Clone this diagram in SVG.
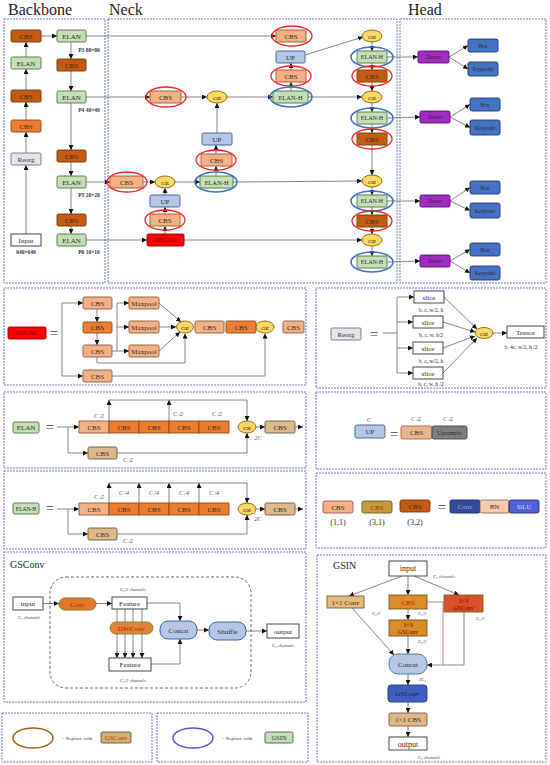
<svg xmlns="http://www.w3.org/2000/svg" width="550" height="765" viewBox="0 0 550 765">
<style>
.pnl{fill:none;stroke:#6c7ab8;stroke-width:1;stroke-dasharray:2 1}
rect{stroke-width:0.9}
.dk{fill:#c55a11;stroke:#6b3a10}
.or{fill:#ed7d31;stroke:#8a4a1a}
.lt{fill:#f4b183;stroke:#8a5a3a}
.gr{fill:#c5e0b4;stroke:#4f6f45}
.bl{fill:#b4c7e7;stroke:#3a5a90}
.ct{fill:#ffd966;stroke:#7f6000;stroke-width:0.9}
.gy{fill:#e4e4ec;stroke:#6f6f7f}
.wh{fill:#fff;stroke:#333}
.rd{fill:#ff0000;stroke:#900}
.pu{fill:#a12cc0;stroke:#5a1070}
.bx{fill:#4472c4;stroke:#1f3864}
.tn{fill:#dfb98a;stroke:#6a5a3a}
.t{font-family:"Liberation Serif",serif;font-size:7px;text-anchor:middle;fill:#2a2a2a}
.ts{font-family:"Liberation Serif",serif;font-size:5.5px;text-anchor:middle;fill:#2a2a2a}
.tb{font-family:"Liberation Serif",serif;font-size:5.5px;text-anchor:middle;fill:#333;font-weight:bold}
.li{font-family:"Liberation Serif",serif;font-size:6px;text-anchor:middle;fill:#444;font-style:italic}
.lx{font-family:"Liberation Serif",serif;font-size:4.6px;fill:#444;font-style:italic}
.ttl{font-family:"Liberation Serif",serif;font-size:16px;fill:#222}
.eq{font-family:"Liberation Serif",serif;font-size:15px;text-anchor:middle;fill:#444}
.er{fill:none;stroke:#ff2020;stroke-width:1.3}
.eb{fill:none;stroke:#3d6fc4;stroke-width:1.6}
.c{fill:none;stroke:#666;stroke-width:0.8}
</style>
<defs>
<marker id="a" markerUnits="userSpaceOnUse" markerWidth="5" markerHeight="5" refX="5" refY="2.5" orient="auto">
<path d="M0,0 L5,2.5 L0,5 z" fill="#111"/>
</marker>
</defs>
<rect width="550" height="765" fill="#fff"/>

<!-- titles and panels -->
<text class="ttl" x="8" y="15">Backbone</text>
<text class="ttl" x="109" y="15">Neck</text>
<text class="ttl" x="408" y="15">Head</text>
<rect class="pnl" x="4" y="19" width="101" height="264"/>
<rect class="pnl" x="108" y="19" width="289" height="264"/>
<rect class="pnl" x="400" y="19" width="146" height="264"/>
<rect class="pnl" x="4" y="288" width="302" height="97"/>
<rect class="pnl" x="316" y="288" width="230" height="100"/>
<rect class="pnl" x="4" y="392" width="302" height="76"/>
<rect class="pnl" x="316" y="392" width="230" height="77"/>
<rect class="pnl" x="4" y="471" width="302" height="78"/>
<rect class="pnl" x="316" y="473" width="230" height="75"/>
<rect class="pnl" x="4" y="552" width="302" height="150"/>
<rect class="pnl" x="317" y="555" width="229" height="207"/>
<rect class="pnl" x="2" y="713" width="150" height="49"/>
<rect class="pnl" x="157" y="713" width="151" height="49"/>

<g id="connectors">
<!-- backbone -->
<line class="c" x1="26" y1="234" x2="26" y2="165" marker-end="url(#a)"/>
<line class="c" x1="26" y1="153" x2="26" y2="132" marker-end="url(#a)"/>
<line class="c" x1="26" y1="120" x2="26" y2="102" marker-end="url(#a)"/>
<line class="c" x1="26" y1="90" x2="26" y2="69" marker-end="url(#a)"/>
<line class="c" x1="26" y1="57" x2="26" y2="42" marker-end="url(#a)"/>
<line class="c" x1="41" y1="36" x2="57" y2="36" marker-end="url(#a)"/>
<line class="c" x1="71" y1="42" x2="71" y2="59" marker-end="url(#a)"/>
<line class="c" x1="71" y1="71" x2="71" y2="91" marker-end="url(#a)"/>
<line class="c" x1="71" y1="103" x2="71" y2="150" marker-end="url(#a)"/>
<line class="c" x1="71" y1="162" x2="71" y2="176" marker-end="url(#a)"/>
<line class="c" x1="71" y1="188" x2="71" y2="214" marker-end="url(#a)"/>
<line class="c" x1="71" y1="226" x2="71" y2="234" marker-end="url(#a)"/>
<!-- neck -->
<line class="c" x1="86" y1="36" x2="276" y2="36" marker-end="url(#a)"/>
<line class="c" x1="305" y1="55" x2="363" y2="37" marker-end="url(#a)"/>
<line class="c" x1="291" y1="91" x2="291" y2="82" marker-end="url(#a)"/>
<line class="c" x1="291" y1="70" x2="291" y2="63" marker-end="url(#a)"/>
<line class="c" x1="86" y1="97" x2="150" y2="97" marker-end="url(#a)"/>
<line class="c" x1="181" y1="97" x2="207" y2="97" marker-end="url(#a)"/>
<line class="c" x1="227" y1="97" x2="273" y2="97" marker-end="url(#a)"/>
<line class="c" x1="308" y1="97" x2="362" y2="97" marker-end="url(#a)"/>
<line class="c" x1="217" y1="133" x2="217" y2="103" marker-end="url(#a)"/>
<line class="c" x1="216" y1="154" x2="216" y2="145" marker-end="url(#a)"/>
<line class="c" x1="216" y1="176" x2="216" y2="166" marker-end="url(#a)"/>
<line class="c" x1="86" y1="182" x2="110" y2="182" marker-end="url(#a)"/>
<line class="c" x1="143" y1="182" x2="155" y2="182" marker-end="url(#a)"/>
<line class="c" x1="175" y1="182" x2="200" y2="182" marker-end="url(#a)"/>
<line class="c" x1="233" y1="182" x2="362" y2="181" marker-end="url(#a)"/>
<line class="c" x1="165" y1="195" x2="165" y2="188" marker-end="url(#a)"/>
<line class="c" x1="165" y1="214" x2="165" y2="207" marker-end="url(#a)"/>
<line class="c" x1="165" y1="234" x2="165" y2="226" marker-end="url(#a)"/>
<line class="c" x1="86" y1="240" x2="147" y2="240" marker-end="url(#a)"/>
<line class="c" x1="184" y1="240" x2="362" y2="240" marker-end="url(#a)"/>
<line class="c" x1="372" y1="42" x2="372" y2="51" marker-end="url(#a)"/>
<line class="c" x1="372" y1="63" x2="372" y2="70" marker-end="url(#a)"/>
<line class="c" x1="372" y1="82" x2="372" y2="91" marker-end="url(#a)"/>
<line class="c" x1="372" y1="103" x2="372" y2="112" marker-end="url(#a)"/>
<line class="c" x1="372" y1="124" x2="372" y2="133" marker-end="url(#a)"/>
<line class="c" x1="372" y1="145" x2="372" y2="175" marker-end="url(#a)"/>
<line class="c" x1="372" y1="187" x2="372" y2="195" marker-end="url(#a)"/>
<line class="c" x1="372" y1="207" x2="372" y2="215" marker-end="url(#a)"/>
<line class="c" x1="372" y1="227" x2="372" y2="234" marker-end="url(#a)"/>
<line class="c" x1="372" y1="246" x2="372" y2="256" marker-end="url(#a)"/>
<!-- head -->
<line class="c" x1="387" y1="57" x2="418" y2="57" marker-end="url(#a)"/>
<line class="c" x1="449" y1="57" x2="468" y2="45.5" marker-end="url(#a)"/>
<line class="c" x1="449" y1="57" x2="468" y2="69" marker-end="url(#a)"/>
<line class="c" x1="387" y1="118" x2="420" y2="117" marker-end="url(#a)"/>
<line class="c" x1="450" y1="117" x2="470" y2="104.5" marker-end="url(#a)"/>
<line class="c" x1="450" y1="117" x2="470" y2="127.5" marker-end="url(#a)"/>
<line class="c" x1="387" y1="201" x2="420" y2="201" marker-end="url(#a)"/>
<line class="c" x1="450" y1="201" x2="470" y2="187.5" marker-end="url(#a)"/>
<line class="c" x1="450" y1="201" x2="470" y2="210.5" marker-end="url(#a)"/>
<line class="c" x1="387" y1="262" x2="420" y2="261" marker-end="url(#a)"/>
<line class="c" x1="450" y1="261" x2="470" y2="249.5" marker-end="url(#a)"/>
<line class="c" x1="450" y1="261" x2="470" y2="273" marker-end="url(#a)"/>
<!-- SPPCSPC -->
<path class="c" d="M62,303 V376"/>
<line class="c" x1="62" y1="303" x2="83" y2="303" marker-end="url(#a)"/>
<line class="c" x1="62" y1="376" x2="83" y2="376" marker-end="url(#a)"/>
<line class="c" x1="97" y1="309" x2="97" y2="322" marker-end="url(#a)"/>
<line class="c" x1="97" y1="333" x2="97" y2="345" marker-end="url(#a)"/>
<path class="c" d="M117,303 V351"/>
<line class="c" x1="112" y1="351" x2="129" y2="351" marker-end="url(#a)"/>
<line class="c" x1="117" y1="303" x2="129" y2="303" marker-end="url(#a)"/>
<line class="c" x1="117" y1="327" x2="129" y2="327" marker-end="url(#a)"/>
<line class="c" x1="159" y1="303" x2="181" y2="322" marker-end="url(#a)"/>
<line class="c" x1="159" y1="327" x2="176" y2="327" marker-end="url(#a)"/>
<line class="c" x1="159" y1="351" x2="180" y2="332" marker-end="url(#a)"/>
<path class="c" d="M97,357 V363 H185 V333.5" marker-end="url(#a)"/>
<path class="c" d="M112,376 H265 V333.5" marker-end="url(#a)"/>
<!-- Reorg -->
<line class="c" x1="383" y1="333" x2="397" y2="333"/>
<path class="c" d="M397,297 V373"/>
<line class="c" x1="397" y1="297" x2="414" y2="297" marker-end="url(#a)"/>
<line class="c" x1="397" y1="322" x2="413" y2="322" marker-end="url(#a)"/>
<line class="c" x1="397" y1="348" x2="413" y2="348" marker-end="url(#a)"/>
<line class="c" x1="397" y1="373" x2="413" y2="373" marker-end="url(#a)"/>
<line class="c" x1="444" y1="297" x2="477" y2="329" marker-end="url(#a)"/>
<line class="c" x1="443" y1="322" x2="475" y2="332" marker-end="url(#a)"/>
<line class="c" x1="443" y1="348" x2="475" y2="336" marker-end="url(#a)"/>
<line class="c" x1="443" y1="373" x2="477" y2="338" marker-end="url(#a)"/>
<line class="c" x1="493" y1="333" x2="507" y2="333" marker-end="url(#a)"/>
<!-- ELAN -->
<line class="c" x1="57" y1="427" x2="79" y2="427" marker-end="url(#a)"/>
<path class="c" d="M68,427 V453 H88" marker-end="url(#a)"/>
<line class="c" x1="109" y1="421" x2="109" y2="400" marker-end="url(#a)"/>
<line class="c" x1="169" y1="421" x2="169" y2="400" marker-end="url(#a)"/>
<path class="c" d="M109,400 H247 V421" marker-end="url(#a)"/>
<path class="c" d="M117,453 H247 V433" marker-end="url(#a)"/>
<line class="c" x1="256" y1="427" x2="265" y2="427" marker-end="url(#a)"/>
<line class="c" x1="295" y1="427" x2="303" y2="427" marker-end="url(#a)"/>
<!-- ELAN-H -->
<line class="c" x1="57" y1="509" x2="79" y2="509" marker-end="url(#a)"/>
<path class="c" d="M68,509 V534 H88" marker-end="url(#a)"/>
<line class="c" x1="109" y1="503" x2="109" y2="483" marker-end="url(#a)"/>
<line class="c" x1="139" y1="503" x2="139" y2="483" marker-end="url(#a)"/>
<line class="c" x1="169" y1="503" x2="169" y2="483" marker-end="url(#a)"/>
<line class="c" x1="199" y1="503" x2="199" y2="483" marker-end="url(#a)"/>
<path class="c" d="M109,483 H247 V503" marker-end="url(#a)"/>
<path class="c" d="M117,534 H247 V515" marker-end="url(#a)"/>
<line class="c" x1="256" y1="509" x2="265" y2="509" marker-end="url(#a)"/>
<line class="c" x1="295" y1="509" x2="303" y2="509" marker-end="url(#a)"/>
<!-- GSConv -->
<line class="c" x1="43" y1="603.5" x2="59" y2="603.5" marker-end="url(#a)"/>
<line class="c" x1="96" y1="603.5" x2="112" y2="603.5" marker-end="url(#a)"/>
<line class="c" x1="117" y1="609" x2="117" y2="658" marker-end="url(#a)"/>
<line class="c" x1="125" y1="609" x2="125" y2="658" marker-end="url(#a)"/>
<line class="c" x1="133" y1="609" x2="133" y2="658" marker-end="url(#a)"/>
<line class="c" x1="142" y1="609" x2="142" y2="658" marker-end="url(#a)"/>
<path class="c" d="M147,603 H180 V621" marker-end="url(#a)"/>
<path class="c" d="M151,664 H180 V639" marker-end="url(#a)"/>
<line class="c" x1="197" y1="630" x2="209" y2="630" marker-end="url(#a)"/>
<line class="c" x1="246" y1="631" x2="267" y2="631" marker-end="url(#a)"/>
<!-- GSIN -->
<line class="c" x1="408" y1="576" x2="408" y2="595" marker-end="url(#a)"/>
<line class="c" x1="402" y1="576" x2="349" y2="596" marker-end="url(#a)"/>
<line class="c" x1="414" y1="576" x2="459" y2="595" marker-end="url(#a)"/>
<line class="c" x1="408" y1="609" x2="408" y2="620" marker-end="url(#a)"/>
<line class="c" x1="408" y1="636" x2="408" y2="654" marker-end="url(#a)"/>
<line class="c" x1="352" y1="608" x2="394" y2="655" marker-end="url(#a)"/>
<path class="c" d="M427,602 H443 V665" style="stroke:#d05060"/>
<path class="c" d="M464,612 V665 H427" marker-end="url(#a)"/>
<line class="c" x1="408" y1="674" x2="408" y2="685" marker-end="url(#a)"/>
<line class="c" x1="408" y1="702" x2="408" y2="713" marker-end="url(#a)"/>
<line class="c" x1="408" y1="726" x2="408" y2="737" marker-end="url(#a)"/>
</g>

<!-- Backbone nodes -->
<g id="bb-cbs1"><rect class="dk" x="11" y="30" width="30" height="12" rx="1.5"/><text class="t" x="26" y="38.5">CBS</text></g>
<g id="bb-elan1"><rect class="gr" x="11" y="57" width="30" height="12" rx="1.5"/><text class="t" x="26" y="65.5">ELAN</text></g>
<g id="bb-cbs2"><rect class="dk" x="11" y="90" width="30" height="12" rx="1.5"/><text class="t" x="26" y="98.5">CBS</text></g>
<g id="bb-cbs3"><rect class="or" x="11" y="120" width="30" height="12" rx="1.5"/><text class="t" x="26" y="128.5">CBS</text></g>
<g id="bb-reorg"><rect class="gy" x="11" y="153" width="30" height="12" rx="1.5"/><text class="t" x="26" y="161.5">Reorg</text></g>
<g id="bb-input"><rect class="wh" x="11" y="234" width="30" height="12"/><text class="t" x="26" y="242.5">Input</text><text class="tb" x="26" y="254">640×640</text></g>
<g id="bb-elanp3"><rect class="gr" x="57" y="30" width="29" height="12" rx="1.5"/><text class="t" x="71.5" y="38.5">ELAN</text><text class="tb" x="89" y="52">P3 80×80</text></g>
<g id="bb-cbs4"><rect class="dk" x="57" y="59" width="29" height="12" rx="1.5"/><text class="t" x="71.5" y="67.5">CBS</text></g>
<g id="bb-elanp4"><rect class="gr" x="57" y="91" width="29" height="12" rx="1.5"/><text class="t" x="71.5" y="99.5">ELAN</text><text class="tb" x="89" y="112">P4 40×40</text></g>
<g id="bb-cbs5"><rect class="dk" x="57" y="150" width="29" height="12" rx="1.5"/><text class="t" x="71.5" y="158.5">CBS</text></g>
<g id="bb-elanp5"><rect class="gr" x="57" y="176" width="29" height="12" rx="1.5"/><text class="t" x="71.5" y="184.5">ELAN</text><text class="tb" x="89" y="197">P5 20×20</text></g>
<g id="bb-cbs6"><rect class="dk" x="57" y="214" width="29" height="12" rx="1.5"/><text class="t" x="71.5" y="222.5">CBS</text></g>
<g id="bb-elanp6"><rect class="gr" x="57" y="234" width="29" height="12" rx="1.5"/><text class="t" x="71.5" y="242.5">ELAN</text><text class="tb" x="89" y="254">P6 10×10</text></g>

<!-- Neck nodes -->
<g id="nk-cbs-p3"><rect class="lt" x="276" y="30" width="30" height="12" rx="1.5"/><text class="t" x="291" y="38.5">CBS</text><ellipse class="er" cx="292" cy="36" rx="20" ry="10"/></g>
<g id="nk-up1"><rect class="bl" x="276" y="51" width="29" height="12" rx="1.5"/><text class="t" x="290.5" y="59.5">UP</text></g>
<g id="nk-cbs2"><rect class="lt" x="276" y="70" width="30" height="12" rx="1.5"/><text class="t" x="291" y="78.5">CBS</text><ellipse class="er" cx="291" cy="76" rx="20" ry="10"/></g>
<g id="nk-elanh1"><rect class="gr" x="273" y="91" width="35" height="12" rx="1.5"/><text class="t" x="290.5" y="99.5" style="font-size:6.5px">ELAN-H</text><ellipse class="eb" cx="291" cy="97" rx="21" ry="10"/></g>
<g id="nk-cbs-p4"><rect class="lt" x="150" y="91" width="31" height="12" rx="1.5"/><text class="t" x="165.5" y="99.5">CBS</text><ellipse class="er" cx="166" cy="97" rx="20" ry="10"/></g>
<g id="nk-cat1"><ellipse class="ct" cx="217" cy="97" rx="10" ry="6"/><text class="t" x="217" y="99.5">cat</text></g>
<g id="nk-up2"><rect class="bl" x="202" y="133" width="30" height="12" rx="1.5"/><text class="t" x="217" y="141.5">UP</text></g>
<g id="nk-cbs3"><rect class="lt" x="201" y="154" width="31" height="12" rx="1.5"/><text class="t" x="216.5" y="162.5">CBS</text><ellipse class="er" cx="216" cy="160" rx="20" ry="10"/></g>
<g id="nk-elanh2"><rect class="gr" x="200" y="176" width="33" height="12" rx="1.5"/><text class="t" x="216.5" y="184.5" style="font-size:6.5px">ELAN-H</text><ellipse class="eb" cx="216" cy="182" rx="21" ry="10"/></g>
<g id="nk-cbs-p5"><rect class="lt" x="110" y="176" width="33" height="12" rx="1.5"/><text class="t" x="126.5" y="184.5">CBS</text><ellipse class="er" cx="127" cy="182" rx="20" ry="10"/></g>
<g id="nk-cat2"><ellipse class="ct" cx="165" cy="182" rx="10" ry="6"/><text class="t" x="165" y="184.5">cat</text></g>
<g id="nk-up3"><rect class="bl" x="150" y="195" width="30" height="12" rx="1.5"/><text class="t" x="165" y="203.5">UP</text></g>
<g id="nk-cbs4"><rect class="lt" x="150" y="214" width="30" height="12" rx="1.5"/><text class="t" x="165" y="222.5">CBS</text><ellipse class="er" cx="165" cy="220" rx="20" ry="10"/></g>
<g id="nk-spp"><rect class="rd" x="147" y="234" width="37" height="12" rx="1.5"/><text class="t" x="165.5" y="242.3" style="font-size:5.5px;fill:#600">SPPCSPC</text></g>
<g id="nk-cat3"><ellipse class="ct" cx="372" cy="36" rx="10" ry="6"/><text class="t" x="372" y="38.5">cat</text></g>
<g id="nk-elanh3"><rect class="gr" x="357" y="51" width="30" height="12" rx="1.5"/><text class="t" x="372" y="59.3" style="font-size:6px">ELAN-H</text><ellipse class="eb" cx="372" cy="57" rx="21" ry="10"/></g>
<g id="nk-cbs5"><rect class="dk" x="357" y="70" width="30" height="12" rx="1.5"/><text class="t" x="372" y="78.5">CBS</text><ellipse class="er" cx="372" cy="76" rx="20" ry="10"/></g>
<g id="nk-cat4"><ellipse class="ct" cx="372" cy="97" rx="10" ry="6"/><text class="t" x="372" y="99.5">cat</text></g>
<g id="nk-elanh4"><rect class="gr" x="357" y="112" width="30" height="12" rx="1.5"/><text class="t" x="372" y="120.3" style="font-size:6px">ELAN-H</text><ellipse class="eb" cx="372" cy="118" rx="21" ry="10"/></g>
<g id="nk-cbs6"><rect class="dk" x="357" y="133" width="30" height="12" rx="1.5"/><text class="t" x="372" y="141.5">CBS</text><ellipse class="er" cx="372" cy="139" rx="20" ry="10"/></g>
<g id="nk-cat5"><ellipse class="ct" cx="372" cy="181" rx="10" ry="6"/><text class="t" x="372" y="183.5">cat</text></g>
<g id="nk-elanh5"><rect class="gr" x="357" y="195" width="30" height="12" rx="1.5"/><text class="t" x="372" y="203.3" style="font-size:6px">ELAN-H</text><ellipse class="eb" cx="372" cy="201" rx="21" ry="10"/></g>
<g id="nk-cbs7"><rect class="dk" x="357" y="215" width="30" height="12" rx="1.5"/><text class="t" x="372" y="223.5">CBS</text><ellipse class="er" cx="372" cy="221" rx="20" ry="10"/></g>
<g id="nk-cat6"><ellipse class="ct" cx="372" cy="240" rx="10" ry="6"/><text class="t" x="372" y="242.5">cat</text></g>
<g id="nk-elanh6"><rect class="gr" x="357" y="256" width="30" height="12" rx="1.5"/><text class="t" x="372" y="264.3" style="font-size:6px">ELAN-H</text><ellipse class="eb" cx="372" cy="262" rx="21" ry="10"/></g>

<!-- Head nodes -->
<g id="hd-detect1"><rect class="pu" x="418" y="51" width="31" height="12" rx="1.5"/><text class="ts" x="433.5" y="59">Detect</text></g>
<g id="hd-box1"><rect class="bx" x="468" y="39" width="30" height="13" rx="2"/><text class="ts" x="483" y="47.5">Box</text></g>
<g id="hd-kp1"><rect class="bx" x="468" y="62" width="30" height="14" rx="2"/><text class="ts" x="483" y="71">Keypoint</text></g>
<g id="hd-detect2"><rect class="pu" x="420" y="111" width="30" height="12" rx="1.5"/><text class="ts" x="435" y="119">Detect</text></g>
<g id="hd-box2"><rect class="bx" x="470" y="98" width="30" height="13" rx="2"/><text class="ts" x="485" y="106.5">Box</text></g>
<g id="hd-kp2"><rect class="bx" x="470" y="120" width="30" height="15" rx="2"/><text class="ts" x="485" y="129.5">Keypoint</text></g>
<g id="hd-detect3"><rect class="pu" x="420" y="195" width="30" height="12" rx="1.5"/><text class="ts" x="435" y="203">Detect</text></g>
<g id="hd-box3"><rect class="bx" x="470" y="181" width="30" height="13" rx="2"/><text class="ts" x="485" y="189.5">Box</text></g>
<g id="hd-kp3"><rect class="bx" x="470" y="203" width="30" height="15" rx="2"/><text class="ts" x="485" y="212.5">Keypoint</text></g>
<g id="hd-detect4"><rect class="pu" x="420" y="255" width="30" height="12" rx="1.5"/><text class="ts" x="435" y="263">Detect</text></g>
<g id="hd-box4"><rect class="bx" x="470" y="243" width="30" height="13" rx="2"/><text class="ts" x="485" y="251.5">Box</text></g>
<g id="hd-kp4"><rect class="bx" x="470" y="266" width="30" height="14" rx="2"/><text class="ts" x="485" y="275">Keypoint</text></g>

<!-- SPPCSPC -->
<g id="sp-node"><rect class="rd" x="8" y="327" width="38" height="12" rx="1.5"/><text class="t" x="27" y="335.3" style="font-size:5.5px;fill:#600">SPPCSPC</text></g>
<text class="eq" x="54" y="338">=</text>
<g id="sp-cbs1"><rect class="lt" x="83" y="297" width="29" height="12" rx="1.5"/><text class="t" x="97.5" y="305.5">CBS</text></g>
<g id="sp-cbs2"><rect class="or" x="83" y="322" width="29" height="11" rx="1.5"/><text class="t" x="97.5" y="330">CBS</text></g>
<g id="sp-cbs3"><rect class="lt" x="83" y="345" width="29" height="12" rx="1.5"/><text class="t" x="97.5" y="353.5">CBS</text></g>
<g id="sp-cbs4"><rect class="lt" x="83" y="370" width="29" height="12" rx="1.5"/><text class="t" x="97.5" y="378.5">CBS</text></g>
<g id="sp-mp1"><rect class="lt" x="129" y="297" width="30" height="12" rx="1.5"/><text class="t" x="144" y="305.5">Maxpool</text></g>
<g id="sp-mp2"><rect class="lt" x="129" y="321" width="30" height="12" rx="1.5"/><text class="t" x="144" y="329.5">Maxpool</text></g>
<g id="sp-mp3"><rect class="lt" x="129" y="345" width="30" height="12" rx="1.5"/><text class="t" x="144" y="353.5">Maxpool</text></g>
<g id="sp-cat1"><ellipse class="ct" cx="185" cy="327" rx="8.5" ry="6"/><text class="t" x="185" y="329.5">cat</text></g>
<g id="sp-cbs5"><rect class="lt" x="195" y="321" width="29" height="12" rx="1.5"/><text class="t" x="209.5" y="329.5">CBS</text></g>
<g id="sp-cbs6"><rect class="or" x="226" y="321" width="30" height="12" rx="1.5"/><text class="t" x="241" y="329.5">CBS</text></g>
<g id="sp-cat2"><ellipse class="ct" cx="265" cy="327" rx="9" ry="6"/><text class="t" x="265" y="329.5">cat</text></g>
<g id="sp-cbs7"><rect class="lt" x="283" y="321" width="21" height="12" rx="1.5"/><text class="t" x="293.5" y="329.5">CBS</text></g>

<!-- Reorg -->
<g id="ro-node"><rect class="gy" x="331" y="328" width="30" height="12" rx="1"/><text class="t" x="346" y="336.5">Reorg</text></g>
<text class="eq" x="374" y="339">=</text>
<g id="ro-slice1"><rect class="wh" x="414" y="291" width="30" height="12"/><text class="t" x="429" y="299.5">slice</text><text class="ts" x="431" y="312">b, c, w/2, h</text></g>
<g id="ro-slice2"><rect class="wh" x="413" y="316" width="30" height="12"/><text class="t" x="428" y="324.5">slice</text><text class="ts" x="431" y="336.5">b, c, w, h/2</text></g>
<g id="ro-slice3"><rect class="wh" x="413" y="342" width="30" height="12"/><text class="t" x="428" y="350.5">slice</text><text class="ts" x="431" y="363">b, c, w/2, h</text></g>
<g id="ro-slice4"><rect class="wh" x="413" y="367" width="30" height="12"/><text class="t" x="428" y="375.5">slice</text><text class="ts" x="431" y="386">b, c, w, h /2</text></g>
<g id="ro-cat"><ellipse class="ct" cx="484" cy="333" rx="9" ry="5.5"/><text class="t" x="484" y="335.5">cat</text></g>
<g id="ro-tensor"><rect class="wh" x="507" y="326" width="37" height="12"/><text class="t" x="525.5" y="334.5">Tensor</text><text class="ts" x="521" y="349">b, 4c, w/2, h /2</text></g>

<!-- ELAN -->
<g id="el-node"><rect class="gr" x="13" y="422" width="26" height="11" rx="1.5"/><text class="t" x="26" y="430">ELAN</text></g>
<text class="eq" x="50" y="432">=</text>
<g id="el-cbs1"><rect class="lt" x="79" y="421" width="30" height="12"/><text class="t" x="94" y="429.5">CBS</text></g>
<g id="el-cbs2"><rect class="or" x="109" y="421" width="30" height="12"/><text class="t" x="124" y="429.5">CBS</text></g>
<g id="el-cbs3"><rect class="or" x="139" y="421" width="30" height="12"/><text class="t" x="154" y="429.5">CBS</text></g>
<g id="el-cbs4"><rect class="or" x="169" y="421" width="30" height="12"/><text class="t" x="184" y="429.5">CBS</text></g>
<g id="el-cbs5"><rect class="or" x="199" y="421" width="30" height="12"/><text class="t" x="214" y="429.5">CBS</text></g>
<g id="el-cat"><ellipse class="ct" cx="247" cy="427" rx="9" ry="6"/><text class="t" x="247" y="429.5">cat</text></g>
<g id="el-cbs6"><rect class="tn" x="265" y="421" width="30" height="12" rx="1.5"/><text class="t" x="280" y="429.5">CBS</text></g>
<g id="el-cbs7"><rect class="tn" x="88" y="447" width="29" height="12" rx="1.5"/><text class="t" x="102.5" y="455.5">CBS</text></g>
<text class="li" x="99" y="418">C /2</text>
<text class="li" x="178" y="416">C /2</text>
<text class="li" x="217" y="416">C /2</text>
<text class="li" x="258" y="440">2C</text>
<text class="li" x="128" y="462">C /2</text>

<!-- ELAN-H -->
<g id="eh-node"><rect class="gr" x="13" y="503" width="26" height="11" rx="1.5"/><text class="t" x="26" y="510.8" style="font-size:5.5px">ELAN-H</text></g>
<text class="eq" x="50" y="513">=</text>
<g id="eh-cbs1"><rect class="lt" x="79" y="503" width="30" height="12"/><text class="t" x="94" y="511.5">CBS</text></g>
<g id="eh-cbs2"><rect class="or" x="109" y="503" width="30" height="12"/><text class="t" x="124" y="511.5">CBS</text></g>
<g id="eh-cbs3"><rect class="or" x="139" y="503" width="30" height="12"/><text class="t" x="154" y="511.5">CBS</text></g>
<g id="eh-cbs4"><rect class="or" x="169" y="503" width="30" height="12"/><text class="t" x="184" y="511.5">CBS</text></g>
<g id="eh-cbs5"><rect class="or" x="199" y="503" width="30" height="12"/><text class="t" x="214" y="511.5">CBS</text></g>
<g id="eh-cat"><ellipse class="ct" cx="247" cy="509" rx="9" ry="6"/><text class="t" x="247" y="511.5">cat</text></g>
<g id="eh-cbs6"><rect class="tn" x="265" y="503" width="30" height="12" rx="1.5"/><text class="t" x="280" y="511.5">CBS</text></g>
<g id="eh-cbs7"><rect class="tn" x="88" y="528" width="29" height="12" rx="1.5"/><text class="t" x="102.5" y="536.5">CBS</text></g>
<text class="li" x="99" y="499">C /2</text>
<text class="li" x="124" y="495">C /4</text>
<text class="li" x="154" y="495">C /4</text>
<text class="li" x="184" y="495">C /4</text>
<text class="li" x="214" y="495">C /4</text>
<text class="li" x="258" y="521">2C</text>
<text class="li" x="128" y="543">C /2</text>

<!-- UP -->
<text class="li" x="369" y="422">C</text>
<g id="up-node"><rect class="bl" x="355" y="425" width="30" height="13" rx="2"/><text class="t" x="370" y="434">UP</text></g>
<text class="eq" x="394" y="439">=</text>
<g id="up-cbs"><rect x="401" y="426" width="31" height="13" rx="2" style="fill:#e6b98a;stroke:#c05060"/><text class="t" x="416.5" y="435">CBS</text></g>
<g id="up-ups"><rect x="432" y="426" width="35" height="13" rx="2" style="fill:#7f7f7f;stroke:#444"/><text class="t" x="449.5" y="434.8" style="font-size:6px">Upsample</text></g>
<text class="li" x="416" y="421">C /2</text>
<text class="li" x="448" y="421">C /2</text>

<!-- CBS legend -->
<g id="lg-cbs11"><rect x="323" y="501" width="30" height="12" rx="2" style="fill:#f4b183;stroke:#9a5050"/><text class="t" x="338" y="509.5">CBS</text><text class="t" x="338" y="525" style="font-size:8px">(1,1)</text></g>
<g id="lg-cbs31"><rect x="362" y="501" width="30" height="12" rx="2" style="fill:#c49a3c;stroke:#6a5a20"/><text class="t" x="377" y="509.5" style="fill:#c02000">CBS</text><text class="t" x="377" y="525" style="font-size:8px">(3,1)</text></g>
<g id="lg-cbs32"><rect class="dk" x="400" y="500" width="30" height="12" rx="2"/><text class="t" x="415" y="508.5">CBS</text><text class="t" x="415" y="525" style="font-size:8px">(3,2)</text></g>
<text class="eq" x="442" y="512">=</text>
<g id="lg-conv"><rect x="450" y="500" width="30" height="13" rx="2" style="fill:#2f4d9a;stroke:#1a2a5a"/><text class="t" x="465" y="508.8" style="fill:#aab">Conv</text></g>
<g id="lg-bn"><rect x="480" y="500" width="29" height="13" rx="2" style="fill:#f8cbad;stroke:#8a6a5a"/><text class="t" x="494.5" y="508.8">BN</text></g>
<g id="lg-silu"><rect x="509" y="500" width="30" height="13" rx="2" style="fill:#4f5fd8;stroke:#2a2a7a"/><text class="t" x="524" y="508.8" style="fill:#dde">SiLU</text></g>

<!-- GSConv -->
<text x="10" y="568" style="font-family:'Liberation Serif',serif;font-size:10px;fill:#222">GSConv</text>
<rect x="50" y="577" width="201" height="111" rx="16" style="fill:none;stroke:#444;stroke-width:0.8;stroke-dasharray:3 2"/>
<g id="gc-input"><rect class="wh" x="13" y="597" width="30" height="13"/><text class="t" x="28" y="606">input</text><text class="lx" x="18" y="619">C₁ channels</text></g>
<g id="gc-conv"><rect x="59" y="598" width="37" height="12" rx="6" style="fill:#e07a2a;stroke:#7a7020"/><text class="t" x="77.5" y="606.5" style="fill:#b02000">Conv</text></g>
<g id="gc-feat1"><rect class="wh" x="112" y="597" width="35" height="12"/><text class="t" x="129.5" y="605.5">Feature</text><text class="lx" x="120" y="591">C₂/2 channels</text></g>
<g id="gc-dwconv"><rect x="110" y="622" width="43" height="12" rx="6" style="fill:#e07a2a;stroke:#7a7020;opacity:0.92"/><text class="t" x="131.5" y="630.5" style="fill:#b02000">DWConv</text></g>
<g id="gc-feat2"><rect class="wh" x="109" y="658" width="42" height="13"/><text class="t" x="130" y="667">Feature</text><text class="lx" x="120" y="682">C₂/2 channels</text></g>
<g id="gc-concat"><rect x="160" y="621" width="37" height="18" rx="8" style="fill:#b4c7e7;stroke:#2f5597"/><text class="t" x="178.5" y="632.5">Concat</text></g>
<g id="gc-shuffle"><rect x="209" y="622" width="37" height="18" rx="8" style="fill:#b4c7e7;stroke:#2f5597"/><text class="t" x="227.5" y="633.5">Shuffle</text></g>
<g id="gc-output"><rect class="wh" x="267" y="624" width="32" height="14"/><text class="t" x="283" y="633.5">output</text><text class="lx" x="272" y="647">C₂ channels</text></g>

<!-- GSIN -->
<text x="333" y="569" style="font-family:'Liberation Serif',serif;font-size:10px;fill:#222">GSIN</text>
<g id="gs-input"><rect class="wh" x="389" y="561" width="38" height="15"/><text class="t" x="408" y="571" style="font-size:8px">input</text><text class="lx" x="433" y="578">C₁ channels</text></g>
<g id="gs-conv11"><rect x="327" y="596" width="37" height="12" style="fill:#e8b97f;stroke:#7a5a30"/><text class="t" x="345.5" y="604.5">1×1 Conv</text><text class="lx" x="372" y="615">C₂/2</text></g>
<g id="gs-cbs"><rect x="389" y="595" width="38" height="14" style="fill:#d98c26;stroke:#6a5a20"/><text class="t" x="408" y="604.5" style="fill:#c02000">CBS</text><text class="lx" x="418" y="615">C₂/2</text></g>
<g id="gs-gsconv3a"><rect x="444" y="595" width="39" height="17" style="fill:#d9502a;stroke:#6a6a20"/><text class="t" x="463.5" y="602.5" style="font-size:6px;fill:#600">3×3</text><text class="t" x="463.5" y="609.5" style="font-size:6px;fill:#600">GSConv</text><text class="lx" x="476" y="620">C₂/2</text></g>
<g id="gs-gsconv3b"><rect x="389" y="620" width="38" height="16" style="fill:#d98c26;stroke:#6a5a20"/><text class="t" x="408" y="627" style="font-size:6px;fill:#600">3×3</text><text class="t" x="408" y="634" style="font-size:6px;fill:#600">GSConv</text><text class="lx" x="418" y="643">C₂/2</text></g>
<g id="gs-concat"><rect x="389" y="654" width="38" height="20" rx="9" style="fill:#b4c7e7;stroke:#4a6a9a"/><text class="t" x="408" y="666.5">Concat</text><text class="lx" x="419" y="681">2C₂</text></g>
<g id="gs-gsconv"><rect x="388" y="685" width="39" height="17" rx="3" style="fill:#3f5fc0;stroke:#1f3a7a"/><text class="t" x="407.5" y="696" style="fill:#223">GSConv</text></g>
<g id="gs-cbs11"><rect x="389" y="713" width="38" height="13" rx="1.5" style="fill:#e0b888;stroke:#7a5a40"/><text class="t" x="408" y="722">1×1 CBS</text></g>
<g id="gs-output"><rect class="wh" x="389" y="737" width="38" height="13"/><text class="t" x="408" y="746.5" style="font-size:8px">output</text><text class="lx" x="418" y="759">C₂ channels</text></g>

<!-- legends -->
<g id="lg-gsconv"><ellipse cx="33" cy="738" rx="20" ry="10" style="fill:none;stroke:#9a6010;stroke-width:1.5"/><text x="62" y="740" style="font-family:'Liberation Serif',serif;font-size:5px;fill:#333">= Replace with</text><rect x="101" y="732" width="30" height="11" rx="1.5" style="fill:#d9b070;stroke:#555"/><text class="t" x="116" y="740" style="font-size:6.5px;fill:#b03000">GSConv</text></g>
<g id="lg-gsin"><ellipse cx="193" cy="738" rx="20" ry="10" style="fill:none;stroke:#5050e0;stroke-width:1.5"/><text x="222" y="740" style="font-family:'Liberation Serif',serif;font-size:5px;fill:#333">= Replace with</text><rect x="265" y="732" width="28" height="11" rx="1.5" style="fill:#c5e0b4;stroke:#555"/><text class="t" x="279" y="740" style="font-size:6.5px">GSIN</text></g>
</svg>
